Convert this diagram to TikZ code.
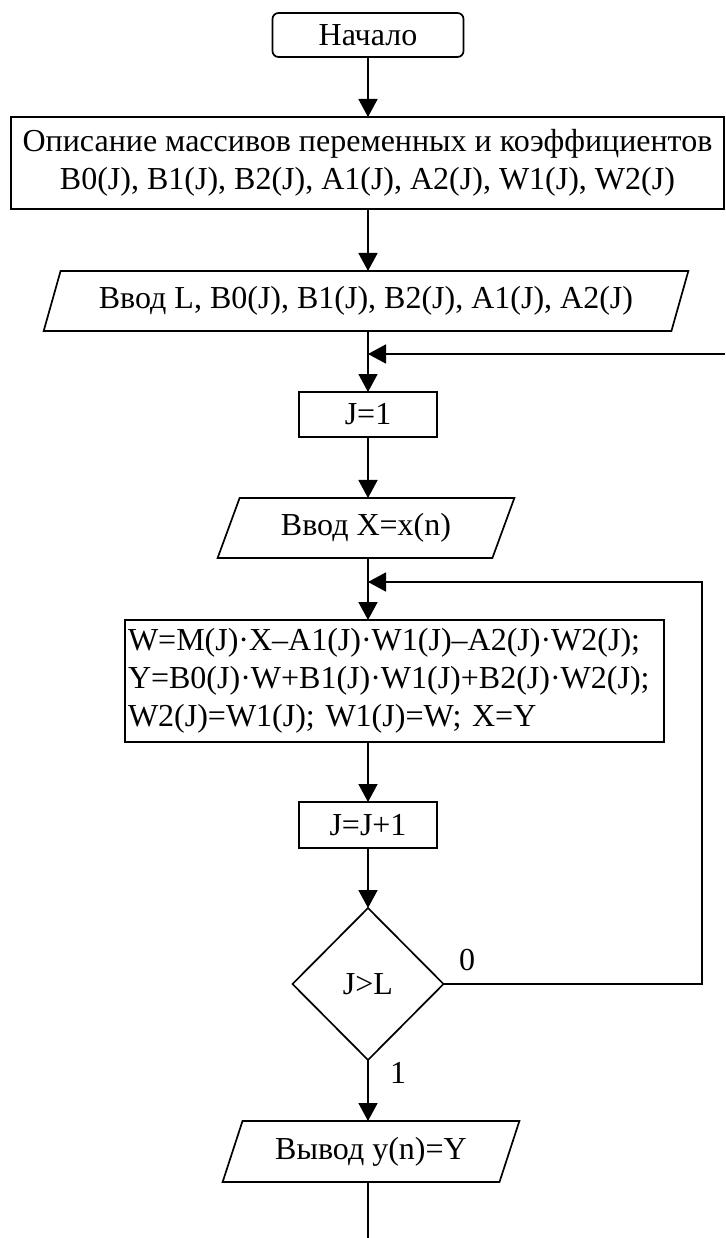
\documentclass[tikz,border=0pt]{standalone}
\usepackage{fontspec}
\setmainfont{Liberation Serif}
\usetikzlibrary{arrows.meta,shapes.geometric}
\begin{document}
\begin{tikzpicture}[x=1pt,y=-1pt,
  every node/.style={font=\fontsize{32}{38}\selectfont, inner sep=0pt, outer sep=0pt},
  box/.style={draw, line width=1.7pt, rectangle},
  io/.style={draw, line width=1.7pt, trapezium, trapezium left angle=63,
    trapezium right angle=117, trapezium stretches=true},
  decide/.style={draw, line width=1.7pt, diamond},
  line/.style={line width=1.7pt},
  arr/.style={line width=1.7pt, -{Triangle[length=18pt,width=19pt]}}]
\useasboundingbox (0,0) rectangle (725,1238);

\node[box, rounded corners=6pt, minimum width=191pt, minimum height=44pt] (start) at (368,35) {Начало};
\node[box, minimum width=713pt, minimum height=92pt, align=center] (desc) at (367.5,163)
  {Описание массивов переменных и коэффициентов\\B0(J), B1(J), B2(J), A1(J), A2(J), W1(J), W2(J)};
\node[io, minimum width=646pt, minimum height=60pt] (in1) at (366,301)
  {Ввод L, B0(J), B1(J), B2(J), A1(J), A2(J)};
\coordinate (m1) at (368,354);
\coordinate (r1) at (725,354);
\node[box, minimum width=138pt, minimum height=45pt] (j1) at (368,414.5) {J=1};
\node[io, minimum width=297pt, minimum height=60pt] (in2) at (366,528) {Ввод X=x(n)};
\coordinate (m2) at (368,582);
\coordinate (lp) at (702,582);
\node[box, text width=533pt, inner xsep=3pt, minimum height=122pt, align=left] (wb) at (394.5,681)
  {W=M(J)·X–A1(J)·W1(J)–A2(J)·W2(J);\\Y=B0(J)·W+B1(J)·W1(J)+B2(J)·W2(J);\\W2(J)=W1(J); W1(J)=W; X=Y};
\node[box, minimum width=138pt, minimum height=46pt] (jj) at (368,825) {J=J+1};
\node[decide, minimum width=151pt, minimum height=152pt] (dia) at (368,984) {J>L};
\node (l0) at (467,960) {0};
\node (l1) at (398,1073) {1};
\node[io, minimum width=297pt, minimum height=61pt] (out) at (371,1151.5) {Вывод y(n)=Y};
\coordinate (end) at (368,1238);

\draw[arr] (start.south) -- (start.south |- desc.north);
\draw[arr] (start.south |- desc.south) -- (start.south |- in1.north);
\draw[arr] (start.south |- in1.south) -- (j1.north);
\draw[arr] (r1) -- (m1);
\draw[arr] (j1.south) -- (j1.south |- in2.north);
\draw[arr] (j1.south |- in2.south) -- (m2) -- (m2 |- wb.north);
\draw[arr] (dia.east) -| (lp) -- (m2);
\draw[arr] (m2 |- wb.south) -- (jj.north);
\draw[arr] (jj) -- (dia);
\draw[arr] (dia.south) -- (dia.south |- out.north);
\draw[line] (out.south -| end) -- (end);
\end{tikzpicture}
\end{document}
